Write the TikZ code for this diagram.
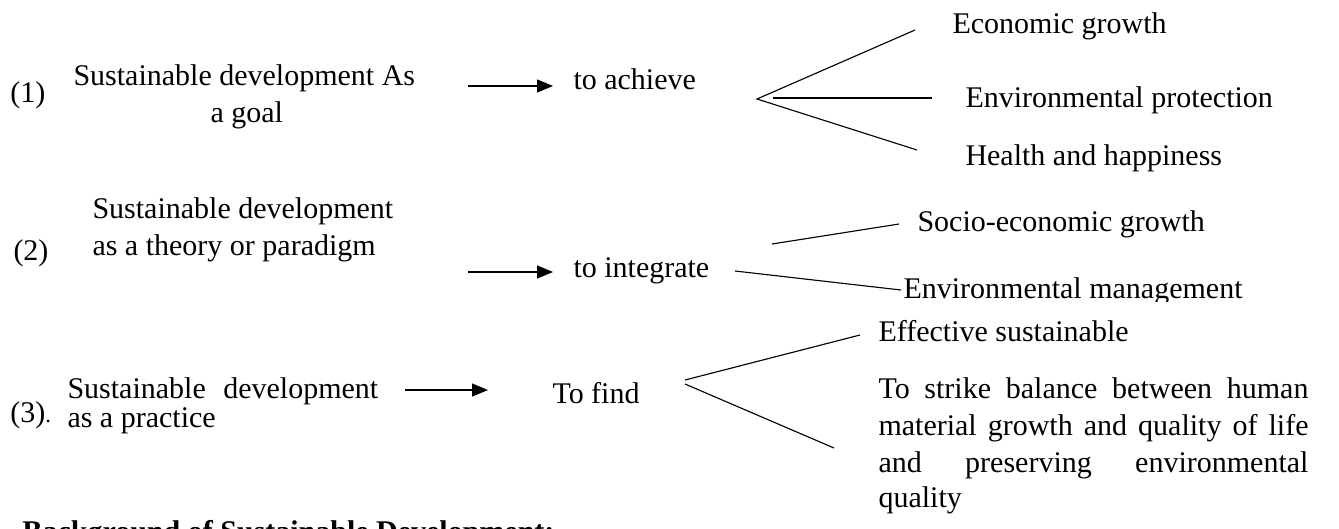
\documentclass[tikz,border=0pt]{standalone}
\usepackage{fontspec}
\setmainfont{Liberation Serif}
\usetikzlibrary{arrows.meta}

\tikzset{
  txt/.style={inner sep=0pt, anchor=base west, font=\fontsize{12}{14.6}\selectfont},
  arr/.style={-{Triangle[length=6.4pt,width=5.2pt]}, line width=0.45pt},
  fan/.style={line width=0.45pt}
}

\begin{document}
\begin{tikzpicture}[x=0.4pt,y=-0.4pt]
\useasboundingbox (0,0) rectangle (1339,528);

% (1) as a goal
\node[txt] (num1) at (10,102) {(1)};
\node[txt] (goal) at (73,85) {Sustainable development As};
\node[txt] (goalb) at (210,122) {a goal};
\node[txt] (achieve) at (573,89) {to achieve};
\coordinate (a1s) at (468,86);
\coordinate (a1e) at (553,86);
\draw[arr] (a1s) -- (a1e);
\node[txt] (econ) at (952,33) {Economic growth};
\node[txt] (envprot) at (965,107) {Environmental protection};
\node[txt] (health) at (965,165) {Health and happiness};
\coordinate (v1) at (757,99);
\coordinate (v1m) at (773,98);
\coordinate (u1) at (915,30);
\coordinate (m1) at (932,98);
\coordinate (l1) at (917,150);
\draw[fan] (u1) -- (v1) -- (l1);
\draw[fan] (v1m) -- (m1);

% (2) as a theory
\node[txt] (num2) at (13,260) {(2)};
\node[txt] (theory) at (92,218) {Sustainable development};
\node[txt] (theoryb) at (92,255) {as a theory or paradigm};
\node[txt] (integrate) at (573,277) {to integrate};
\coordinate (a2s) at (468,272);
\coordinate (a2e) at (553,272);
\draw[arr] (a2s) -- (a2e);
\node[txt] (socio) at (917,231) {Socio-economic growth};
\begin{scope}
  \clip (880,250) rectangle (1339,301);
  \node[txt] (envman) at (903,298) {Environmental management};
\end{scope}
\coordinate (u2s) at (772,244);
\coordinate (u2e) at (899,224);
\coordinate (l2s) at (735,271);
\coordinate (l2e) at (901,290);
\draw[fan] (u2s) -- (u2e);
\draw[fan] (l2s) -- (l2e);

% (3) as a practice
\node[txt] (num3) at (10,422) {(3){\small.}};
\node[txt] (practice) at (67,398) {Sustainable\hspace{4pt} development};
\node[txt] (practiceb) at (67,427) {as a practice};
\node[txt] (find) at (552,403) {To find};
\coordinate (a3s) at (405,390);
\coordinate (a3e) at (488,390);
\draw[arr] (a3s) -- (a3e);
\coordinate (v3u) at (685,380);
\coordinate (v3l) at (685,384);
\coordinate (u3) at (860,335);
\coordinate (l3) at (834,448);
\draw[fan] (v3u) -- (u3);
\draw[fan] (v3l) -- (l3);
\node[txt] (effective) at (878,341) {Effective sustainable};
\node[txt] (bal1) at (878,398) {\makebox[172pt][s]{To strike balance between human}};
\node[txt] (bal2) at (878,435) {\makebox[172pt][s]{material growth and quality of life}};
\node[txt] (bal3) at (878,472) {\makebox[172pt][s]{and preserving environmental}};
\node[txt] (bal4) at (878,507) {quality};

% heading below, cut by the page edge
\node[txt, font=\fontsize{12}{14.6}\selectfont\bfseries] (bg) at (22,541) {Background of Sustainable Development:};
\end{tikzpicture}
\end{document}
